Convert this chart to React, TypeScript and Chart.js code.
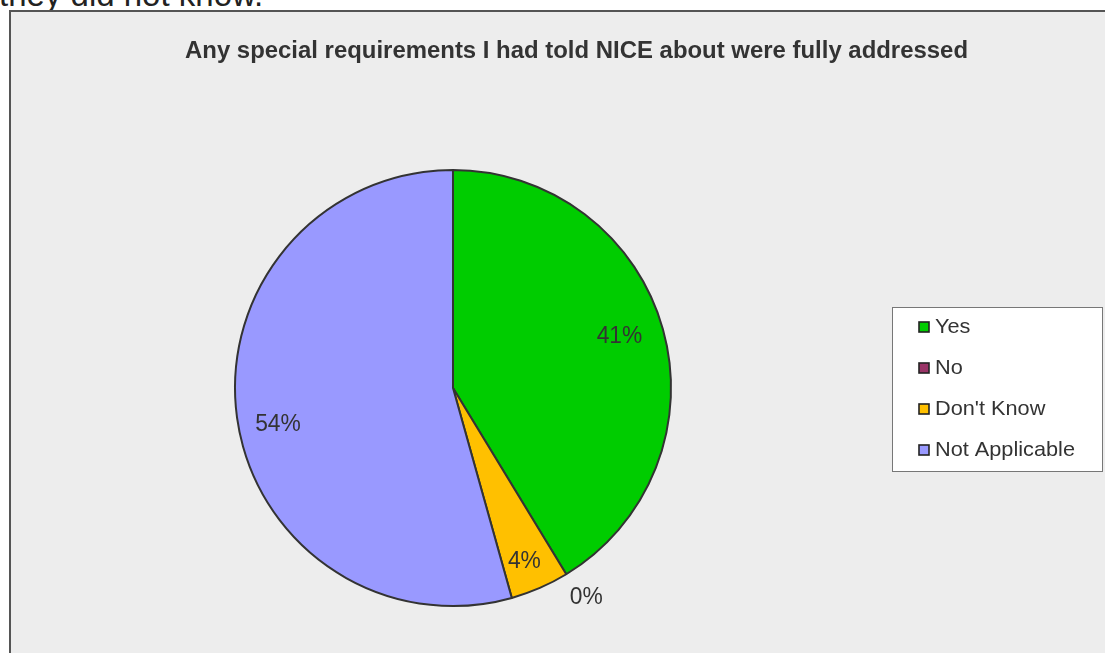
import React, { useEffect, useRef } from "react";
import { Chart, registerables } from "chart.js";

Chart.register(...registerables);

const categories = ["Yes", "No", "Don't Know", "Not Applicable"];
const responseCounts = [19, 0, 2, 25];
const percentLabels = ["41%", "0%", "4%", "54%"];
const sliceColors = ["#00cc00", "#993366", "#ffc000", "#9999ff"];
const chartTitle = "Any special requirements I had told NICE about were fully addressed";
const precedingText = "they did not know.";

// label placement style: radius factor and angle nudge (degrees)
const labelRadiusFactor = [0.8, 1.14, 0.86, 0.82];
const labelAngleNudge = [-1.7, -1.1, 1.1, -3.9];

const W = 1105;
const H = 653;

const labelPlugin = {
  id: "pctLabels",
  afterDatasetsDraw(chart: any) {
    const ctx = chart.ctx;
    const meta = chart.getDatasetMeta(0);
    ctx.save();
    ctx.font = "24px 'Liberation Sans', Arial, sans-serif";
    ctx.fillStyle = "#333333";
    ctx.textAlign = "center";
    ctx.textBaseline = "middle";
    meta.data.forEach((arc: any, i: number) => {
      const p = arc.getProps(["x", "y", "startAngle", "endAngle", "outerRadius"], true);
      const mid = (p.startAngle + p.endAngle) / 2 + (labelAngleNudge[i] * Math.PI) / 180;
      const r = p.outerRadius * labelRadiusFactor[i];
      const x = p.x + Math.cos(mid) * r;
      const y = p.y + Math.sin(mid) * r;
      ctx.save();
      ctx.translate(x, y);
      ctx.scale(0.95, 1);
      ctx.fillText(percentLabels[i], 0, 0);
      ctx.restore();
    });
    ctx.restore();
  },
};

const titlePlugin = {
  id: "customTitle",
  afterDraw(chart: any) {
    const ctx = chart.ctx;
    ctx.save();
    ctx.font = "bold 23px 'Liberation Sans', Arial, sans-serif";
    ctx.fillStyle = "#333333";
    ctx.textBaseline = "middle";
    ctx.textAlign = "left";
    const target = 783;
    const measured = ctx.measureText(chartTitle).width;
    ctx.translate(185, 52);
    ctx.scale(target / measured, 1);
    ctx.fillText(chartTitle, 0, 0);
    ctx.restore();
  },
};

const legendPlugin = {
  id: "customLegend",
  afterDraw(chart: any) {
    const ctx = chart.ctx;
    ctx.save();
    const bx = 892.5, by = 307.5, bw = 210, bh = 164;
    ctx.fillStyle = "#ffffff";
    ctx.fillRect(bx, by, bw, bh);
    ctx.strokeStyle = "#777777";
    ctx.lineWidth = 1;
    ctx.strokeRect(bx, by, bw, bh);
    ctx.font = "21px 'Liberation Sans', Arial, sans-serif";
    ctx.textBaseline = "middle";
    ctx.textAlign = "left";
    const sx = 140 / ctx.measureText("Not Applicable").width;
    categories.forEach((c, i) => {
      const cy = 327 + i * 41;
      ctx.fillStyle = sliceColors[i];
      ctx.fillRect(919, cy - 5, 10, 10);
      ctx.strokeStyle = "#222222";
      ctx.lineWidth = 1.6;
      ctx.strokeRect(919, cy - 5, 10, 10);
      ctx.fillStyle = "#333333";
      ctx.save();
      ctx.translate(935, cy);
      ctx.scale(sx, 1);
      ctx.fillText(c, 0, 0);
      ctx.restore();
    });
    ctx.restore();
  },
};

export default function App() {
  const ref = useRef<HTMLCanvasElement | null>(null);
  useEffect(() => {
    if (!ref.current) return;
    const chart = new Chart(ref.current, {
      type: "pie",
      data: {
        labels: categories,
        datasets: [
          {
            data: responseCounts,
            backgroundColor: sliceColors,
            borderColor: "#333333",
            borderWidth: 2,
          },
        ],
      },
      options: {
        responsive: false,
        animation: false,
        radius: 218,
        layout: { padding: { left: 235, right: W - 671, top: 170, bottom: H - 606 } },
        plugins: {
          legend: { display: false },
          title: { display: false },
          tooltip: { enabled: false },
        },
      } as any,
      plugins: [labelPlugin, titlePlugin, legendPlugin],
    });
    return () => chart.destroy();
  }, []);

  return (
    <div
      style={{
        position: "fixed",
        left: 0,
        top: 0,
        width: W,
        height: H,
        overflow: "hidden",
        background: "#ffffff",
      }}
    >
      <div
        style={{
          position: "absolute",
          left: -1,
          top: -22,
          fontFamily: "'Liberation Sans', Arial, sans-serif",
          fontSize: 33,
          lineHeight: "33px",
          color: "#222222",
          whiteSpace: "nowrap",
        }}
      >
        {precedingText}
      </div>
      <div
        style={{
          position: "absolute",
          left: 9,
          top: 10,
          width: W,
          height: H,
          background: "#ededed",
          borderLeft: "2px solid #555555",
          borderTop: "2px solid #555555",
        }}
      />
      <canvas
        ref={ref}
        width={W}
        height={H}
        style={{ position: "absolute", left: 0, top: 0, width: W, height: H }}
      />
    </div>
  );
}
